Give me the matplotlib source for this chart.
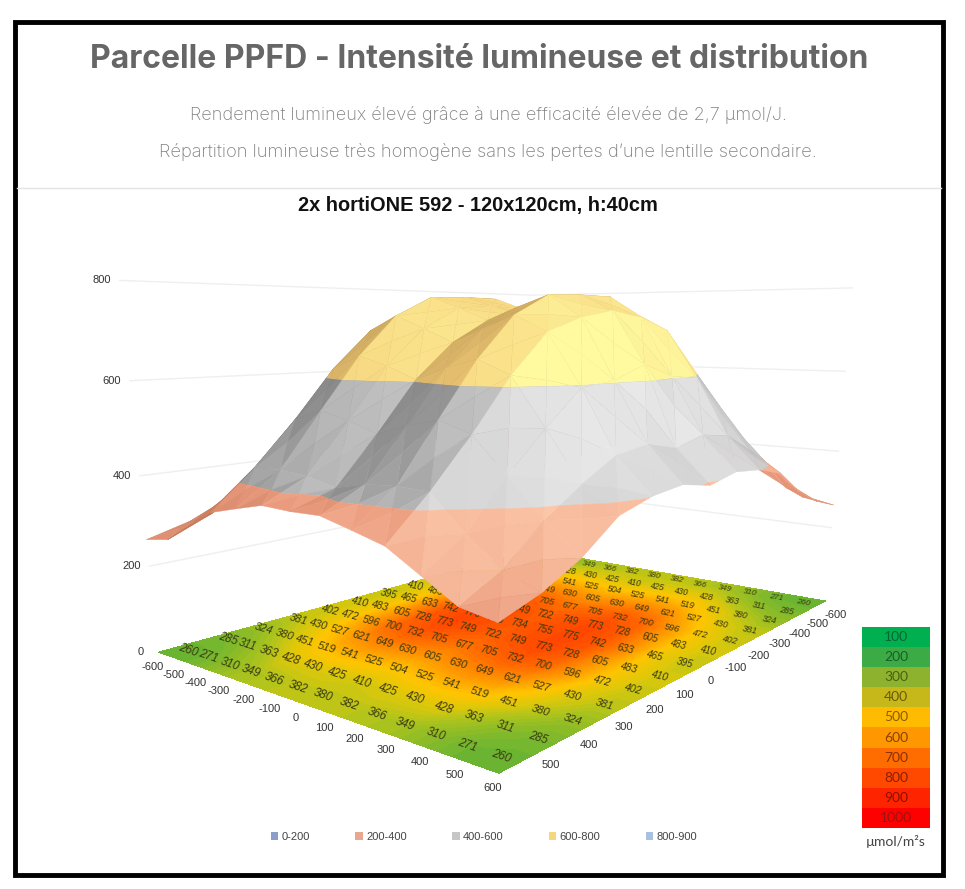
import numpy as np
import matplotlib
matplotlib.use("Agg")
import matplotlib.pyplot as plt
from matplotlib.colors import LinearSegmentedColormap, Normalize
from matplotlib.patches import Rectangle
from mpl_toolkits.mplot3d import proj3d
from mpl_toolkits.mplot3d.art3d import Poly3DCollection

W, H = 965, 889

# PPFD readings, 7 rows from the front edge, the rest mirror them
ticks = [-600, -500, -400, -300, -200, -100, 0, 100, 200, 300, 400, 500, 600]
row1 = [260, 271, 310, 349, 366, 382, 380, 382, 366, 349, 310, 271, 260]
row2 = [285, 311, 363, 428, 430, 425, 410, 425, 430, 428, 363, 311, 285]
row3 = [324, 380, 451, 519, 541, 525, 504, 525, 541, 519, 451, 380, 324]
row4 = [381, 430, 527, 621, 649, 630, 605, 630, 649, 621, 527, 430, 381]
row5 = [402, 472, 596, 700, 732, 705, 677, 705, 732, 700, 596, 472, 402]
row6 = [410, 483, 605, 728, 773, 749, 722, 749, 773, 728, 605, 483, 410]
row7 = [395, 465, 633, 742, 775, 755, 734, 755, 775, 742, 633, 465, 395]
z_ticks = [0, 200, 400, 600, 800]

scale_values = [100, 200, 300, 400, 500, 600, 700, 800, 900, 1000]
scale_colors = ["#00b050", "#3dab45", "#8db32e", "#c6b81a", "#ffbb00",
                "#ff9800", "#ff6d00", "#ff4800", "#ff2400", "#ff0000"]
scale_text = ["#06662f", "#15602a", "#4a6010", "#6a5a08", "#8a5a00",
              "#8a4000", "#8a3000", "#8a2000", "#8a1000", "#a01010"]

# floor picture colours by PPFD value
floor_values = [240, 300, 370, 420, 500, 600, 700, 780]
floor_colors = ["#5cb035", "#86bb2a", "#b5c41a", "#dcc80a", "#ffc400", "#ff9800", "#ff6800", "#ff4400"]

legend_labels = ["0-200", "200-400", "400-600", "600-800", "800-900"]
legend_colors = ["#8b9dc9", "#e8a78f", "#c6c6c6", "#f5d77e", "#a9c0e0"]

# band colours: dark, mid, light side of the dome
bands = [(200, 400), (400, 600), (600, 800)]
band_ramps = [
    [(185, 112, 82), (235, 155, 125), (255, 205, 175)],
    [(110, 110, 110), (195, 195, 195), (250, 250, 250)],
    [(150, 120, 65), (245, 205, 120), (255, 250, 160)],
]
band_lift = [0.15, 0.0, 0.2]

half = np.array([row1, row2, row3, row4, row5, row6])
Z = np.vstack([half, [row7], half[::-1]]).astype(float)
x = np.array(ticks, dtype=float)
X, Y = np.meshgrid(x, x, indexing="ij")
X = -X  # row1 is the front edge


def clip_z(poly, lo, hi):
    # Sutherland-Hodgman against the two z planes
    for level, keep_above in ((lo, True), (hi, False)):
        out = []
        for k in range(len(poly)):
            a, b = poly[k], poly[(k + 1) % len(poly)]
            ina = a[2] >= level if keep_above else a[2] <= level
            inb = b[2] >= level if keep_above else b[2] <= level
            if ina:
                out.append(a)
            if ina != inb:
                t = (level - a[2]) / (b[2] - a[2])
                out.append(a + t * (b - a))
        poly = out
        if not poly:
            return []
    return poly


def face_colour(tri, ramp, lift):
    n = np.cross((tri[1] - tri[0]) * [1, 1, 1.1], (tri[2] - tri[0]) * [1, 1, 1.1])
    n = n / np.linalg.norm(n)
    if n[2] < 0:
        n = -n
    light = np.array([0.25, 0.75, 0.35])
    light = light / np.linalg.norm(light)
    t = np.clip(n.dot(light) - 0.15 + lift, 0, 1)
    pos = [0, 0.5, 1]
    return tuple(np.interp(t, pos, [c[i] for c in ramp]) / 255 for i in range(3))


polys, cols = [], []
for i in range(12):
    for j in range(12):
        p = [np.array([X[a, b], Y[a, b], Z[a, b]]) for a, b in
             ((i, j), (i, j + 1), (i + 1, j + 1), (i + 1, j))]
        mid = sum(p) / 4
        for k in range(4):
            tri = [p[k], p[(k + 1) % 4], mid]
            for (lo, hi), ramp, lift in zip(bands, band_ramps, band_lift):
                piece = clip_z(tri, lo, hi)
                if len(piece) >= 3:
                    polys.append(piece)
                    cols.append(face_colour(tri, ramp, lift))

plt.rcParams["font.family"] = ["Liberation Sans", "DejaVu Sans"]
fig = plt.figure(figsize=(W / 100, H / 100), dpi=100, facecolor="white")

size = 895
cx, cy = 508, 619
ax = fig.add_axes([(cx - size / 2) / W, (H - cy - size / 2) / H, size / W, size / H],
                  projection="3d")
ax.computed_zorder = False
ax.set_axis_off()
ax.patch.set_alpha(0)

# floor heat map, edge values padded out to the plate border
lo_v, hi_v = floor_values[0], floor_values[-1]
cmap = LinearSegmentedColormap.from_list(
    "ppfd", [((v - lo_v) / (hi_v - lo_v), c) for v, c in zip(floor_values, floor_colors)])
pad = np.pad(Z, 1, mode="edge")
xc = np.concatenate([[-600], x * 12 / 13, [600]])
Xf, Yf = np.meshgrid(xc, xc, indexing="ij")
ax.contourf(-Xf, Yf, pad, levels=np.arange(240, 800, 15), cmap=cmap,
            norm=Normalize(lo_v, hi_v), zdir="z", offset=0, zorder=1, antialiased=False)

# faint wall lines
for z in z_ticks[1:]:
    ax.plot([600, -600, -600], [-600, -600, 600], [z, z, z], color="#efefef", lw=1, zorder=0)

surf = Poly3DCollection(polys, facecolors=cols, edgecolors=cols, linewidths=0.3, zorder=3)
ax.add_collection3d(surf)

ax.set_xlim(-600, 600)
ax.set_ylim(-600, 600)
ax.set_zlim(-710, 800)
ax.set_box_aspect((1.22, 0.9, 1.352), zoom=1.0)
ax.set_proj_type("persp", focal_length=0.205)
ax.view_init(elev=15.9, azim=38.8)
ax.apply_aspect()
M = ax.get_proj()


def to2d(px, py, pz):
    u, v, _ = proj3d.proj_transform(px, py, pz, M)
    return u, v


def label(px, py, pz, txt, dx, dy, **kw):
    ax.annotate(txt, to2d(px, py, pz), xytext=(dx, dy), textcoords="offset pixels", ha="center", va="center",
                annotation_clip=False, zorder=5, **kw)


# axis labels
for z in z_ticks:
    label(600, -600, z, str(z), -18, 0, fontsize=8, color="#333333")
for t in ticks:
    label(600, t, 0, str(t), -6, -15, fontsize=8, color="#333333")
for t in ticks[:-1]:
    label(t, 600, 0, str(t), 10, -14, fontsize=8, color="#333333")

# numbers printed on the floor, turned along their row
row_size = np.linspace(8.5, 6, 13)
for i in range(13):
    a = ax.transData.transform(to2d(X[i, 0] * 12 / 13, -600, 0))
    b = ax.transData.transform(to2d(X[i, 0] * 12 / 13, 600, 0))
    rot = np.degrees(np.arctan2(b[1] - a[1], b[0] - a[0]))
    for j in range(13):
        ax.text2D(*to2d(X[i, j] * 12 / 13, Y[i, j] * 12 / 13, 0), str(int(Z[i, j])), transform=ax.transData,
                  fontsize=row_size[i], rotation=rot, rotation_mode="anchor", color="#3a3a10", style="italic",
                  ha="center", va="center", zorder=2)


def fx(px):
    return px / W


def fy(py):
    return 1 - py / H


# page furniture
fig.text(fx(479), fy(60), "Parcelle PPFD - Intensité lumineuse et distribution", family="Inter",
         weight="bold", fontsize=23, color="#666666", ha="center", va="center")
fig.text(fx(488), fy(115), "Rendement lumineux élevé grâce à une efficacité élevée de 2,7 µmol/J.",
         family="Inter", weight="light", fontsize=13, color="#808080", ha="center", va="center")
fig.text(fx(488), fy(152), "Répartition lumineuse très homogène sans les pertes d’une lentille secondaire.",
         family="Inter", weight="light", fontsize=13.2, color="#808080", ha="center", va="center")
fig.add_artist(plt.Line2D([fx(17), fx(941)], [fy(188), fy(188)], color="#e4e4e4", lw=1))
fig.text(fx(478), fy(206), "2x hortiONE 592 - 120x120cm, h:40cm", weight="bold", fontsize=14.4,
         color="#111111", ha="center", va="center")
fig.add_artist(Rectangle((fx(14.5), fy(874.5)), 928 / W, 853 / H, transform=fig.transFigure,
                         fill=False, ec="black", lw=3.5))

# legend under the chart
handles = [Rectangle((0, 0), 1, 1, fc=c, ec="none") for c in legend_colors]
fig.legend(handles, legend_labels, ncol=5, loc="center", bbox_to_anchor=(fx(484), fy(837)), frameon=False,
           fontsize=8, labelcolor="#444444", handlelength=0.7, handleheight=0.7, handletextpad=0.3,
           columnspacing=4.05)

# colour scale on the right
ax_scale = fig.add_axes([fx(862), fy(828), (930 - 862) / W, (828 - 627) / H])
ax_scale.bar(0, [1] * 10, bottom=np.arange(10)[::-1], width=1, color=scale_colors)
for k, v in enumerate(scale_values):
    ax_scale.text(0, 9.5 - k, str(v), ha="center", va="center", fontsize=10, family="Lato", color=scale_text[k])
ax_scale.set_xlim(-0.5, 0.5)
ax_scale.set_ylim(0, 10)
ax_scale.axis("off")
fig.text(fx(896), fy(841), "µmol/m²s", ha="center", va="center", family="Lato", fontsize=10, color="#444444")

fig.savefig("out.png", dpi=100)
